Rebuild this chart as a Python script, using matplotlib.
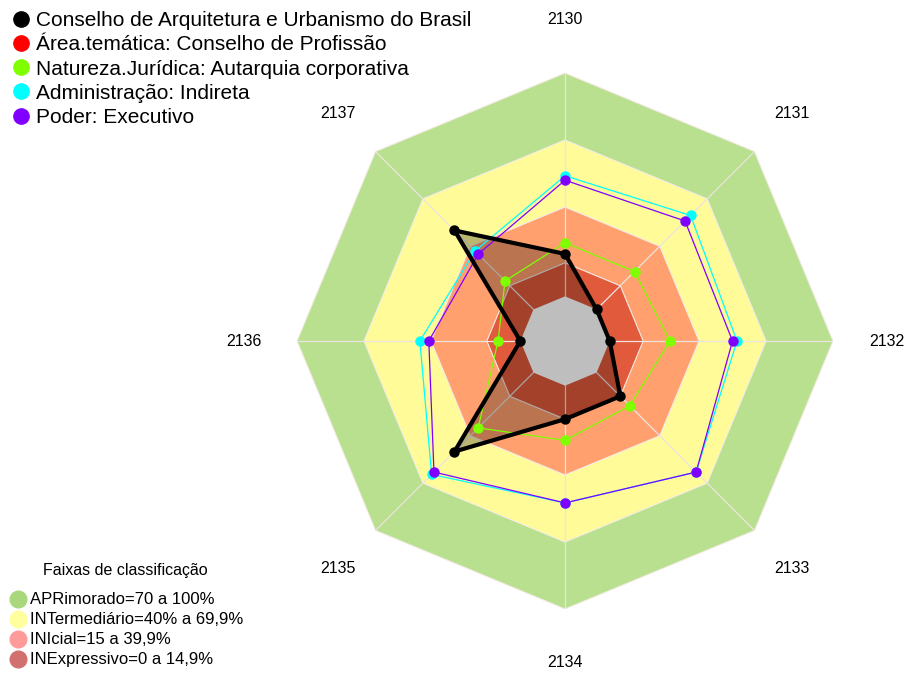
import numpy as np
import matplotlib.pyplot as plt
from matplotlib.lines import Line2D

plt.rcParams['font.family'] = ['Liberation Sans', 'DejaVu Sans']

eixos = ["2130", "2131", "2132", "2133", "2134", "2135", "2136", "2137"]

# valores (%) por eixo
conselho = [19, 0, 0, 15, 15, 50, 0, 50]
natureza = [24, 24, 27, 21, 24.5, 35, 10, 18]
administracao = [54, 59.5, 57, 63, 52.5, 64.5, 45, 37]
poder = [52, 56, 55, 63, 52.5, 63, 41, 35]

series_labels = ["Conselho de Arquitetura e Urbanismo do Brasil",
                 "Área.temática: Conselho de Profissão",
                 "Natureza.Jurídica: Autarquia corporativa",
                 "Administração: Indireta",
                 "Poder: Executivo"]
series_colors = ["black", "#FF0000", "#7FFF00", "#00FFFF", "#8000FF"]

# faixas de classificacao (limite superior de cada faixa)
faixa_limites = [100, 70, 40, 15]
faixa_cores = ["#B9E08E", "#FFFB98", "#FFA06E", "#E15A3C"]
centro_cor = "#BEBEBE"
faixa_labels = ["APRimorado=70 a 100%", "INTermediário=40% a 69,9%",
                "INIcial=15 a 39,9%", "INExpressivo=0 a 14,9%"]
faixa_leg_cores = ["#A9D87C", "#FFFF9E", "#FF9A9A", "#D27070"]

n = len(eixos)
ang = np.linspace(0, 2 * np.pi, n, endpoint=False)
ang_c = np.append(ang, ang[0])

def fechar(v):
    return np.append(v, v[0])

fig = plt.figure(figsize=(9.05, 6.73), dpi=100)
ax = fig.add_axes([0.3282, 0.0951, 0.5923, 0.7964], projection='polar')
ax.set_theta_zero_location('N')
ax.set_theta_direction(-1)
ax.set_ylim(-20, 100)
ax.axis('off')

for lim, cor in zip(faixa_limites, faixa_cores):
    ax.fill(ang_c, np.full(n + 1, lim), color=cor, lw=0.8, ec='#F4ECE8', zorder=1)

for a in ang:
    ax.plot([a, a], [-20, 100], color='#EDE3E0', lw=0.9, zorder=2)

# serie principal com preenchimento
ax.fill(ang_c, fechar(conselho), color='black', alpha=0.27, lw=0, zorder=3)
ax.fill(ang_c, np.zeros(n + 1), color=centro_cor, lw=0, zorder=3.5)

for vals, cor in [(natureza, series_colors[2]), (administracao, series_colors[3]),
                  (poder, series_colors[4])]:
    ax.plot(ang_c, fechar(vals), color=cor, lw=0.9, zorder=4)
    ax.plot(ang, vals, 'o', color=cor, ms=6.5, zorder=5)

ax.plot(ang_c, fechar(conselho), color='black', lw=3, zorder=6)
ax.plot(ang, conselho, 'o', color='black', ms=6.5, zorder=7)

for a, lab in zip(ang, eixos):
    ax.text(a, 124, lab, ha='center', va='center', fontsize=11.5)

h1 = [Line2D([], [], ls='', marker='o', ms=11, color=c) for c in series_colors]
fig.legend(h1, series_labels, loc='upper left', bbox_to_anchor=(0.0, 1.002),
           frameon=False, fontsize=15, handlelength=0.8, handletextpad=0.35,
           labelspacing=0.25, borderaxespad=0.2)

fig.text(125 / 905, 1 - 571 / 673, "Faixas de classificação", ha='center',
         va='center', fontsize=11.5)
h2 = [Line2D([], [], ls='', marker='o', ms=12, color=c) for c in faixa_leg_cores]
fig.legend(h2, faixa_labels, loc='lower left', bbox_to_anchor=(0.0, -0.009),
           frameon=False, fontsize=12, handlelength=0.8, handletextpad=0.3,
           labelspacing=0.3, borderaxespad=0.3)

fig.savefig("out.png", dpi=100)
